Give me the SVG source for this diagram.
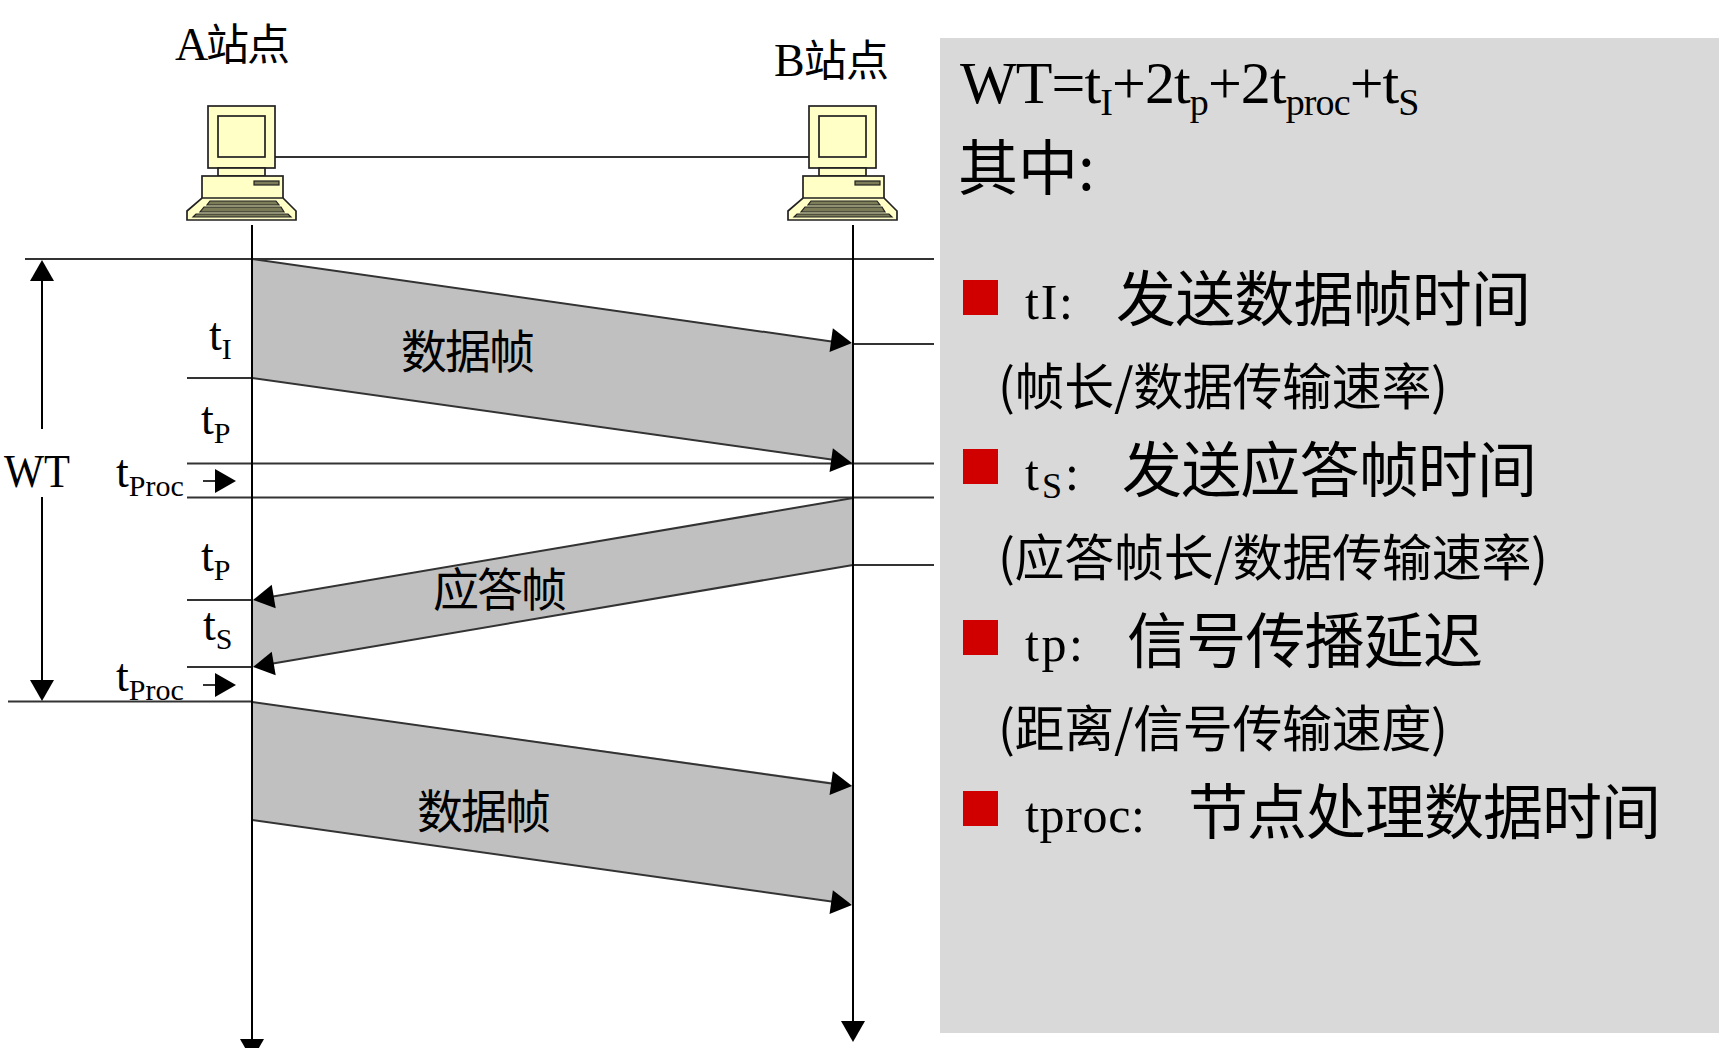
<svg xmlns="http://www.w3.org/2000/svg" width="1724" height="1048" viewBox="0 0 1724 1048">
<defs>
<style>
text{font-family:"Liberation Serif","Noto Sans CJK SC",serif;fill:#000}
.zh{font-family:"Noto Sans CJK SC","Liberation Serif",serif}
.l{stroke:#333;stroke-width:2;fill:none}
.v{stroke:#000;stroke-width:2;fill:none}
.band{fill:#c0c0c0}
.pc{fill:#ffffc6;stroke:#222;stroke-width:1.7}
.key{fill:#7c7c58;stroke:#222;stroke-width:1.2}
.lab{font-size:46px}
.sub{font-size:30px}
.big{font-size:60px}
.mid{font-size:50px}
</style>
<polygon id="ah" points="0,0 -21,-12 -21,12" fill="#000"/>
<g id="pc">
<rect class="pc" x="0" y="0" width="67" height="62"/>
<rect class="pc" x="10" y="10" width="47" height="41"/>
<rect class="pc" x="10" y="62" width="47" height="8"/>
<rect class="pc" x="-6" y="70" width="81" height="27"/>
<rect class="key" x="46" y="75" width="25" height="4"/>
<path class="pc" d="M-6,92 L75,92 L88,105 L88,114 L-21,114 L-21,105Z"/>
<path class="key" d="M2,95 L68,95 L71,99 L-1,99Z M-4,101 L73,101 L76,106 L-8,106Z M-12,108 L80,108 L83,111 L-15,111Z"/>
</g>
</defs>
<rect width="1724" height="1048" fill="#fff"/>
<g id="panel"><rect x="940" y="38" width="779" height="995" fill="#d9d9d9"/></g>
<g id="bands">
<polygon class="band" points="252,259 853,344 853,463 252,378"/>
<polygon class="band" points="853,498 853,565 253,667 253,600"/>
<polygon class="band" points="252,702 853,785 853,904 252,820"/>
</g>
<g id="connectors">
<line class="l" x1="25" y1="259" x2="934" y2="259"/>
<line class="l" x1="187" y1="378" x2="252" y2="378"/>
<line class="l" x1="853" y1="344" x2="934" y2="344"/>
<line class="l" x1="187" y1="463.500" x2="934" y2="463.500"/>
<line class="l" x1="187" y1="497.500" x2="934" y2="497.500"/>
<line class="l" x1="853" y1="565" x2="934" y2="565"/>
<line class="l" x1="187" y1="600" x2="252" y2="600"/>
<line class="l" x1="187" y1="667" x2="252" y2="667"/>
<line class="l" x1="8" y1="701.500" x2="252" y2="701.500"/>
<line class="l" x1="252" y1="259" x2="835" y2="342"/>
<line class="l" x1="252" y1="378" x2="835" y2="460"/>
<line class="l" x1="853" y1="498" x2="270" y2="597"/>
<line class="l" x1="853" y1="565" x2="270" y2="664"/>
<line class="l" x1="252" y1="702" x2="835" y2="784"/>
<line class="l" x1="252" y1="820" x2="835" y2="902"/>
<line class="l" x1="275" y1="157" x2="810" y2="157"/>
<line class="v" x1="252" y1="225" x2="252" y2="1040"/>
<line class="v" x1="853" y1="225" x2="853" y2="1025"/>
<line class="v" x1="42" y1="275" x2="42" y2="429"/>
<line class="v" x1="42" y1="497" x2="42" y2="685"/>
<line class="l" x1="203" y1="481" x2="215" y2="481"/>
<line class="l" x1="203" y1="685" x2="215" y2="685"/>
<use href="#ah" transform="translate(852,343) rotate(8)"/>
<use href="#ah" transform="translate(852,463) rotate(8)"/>
<use href="#ah" transform="translate(253,600) rotate(170.500)"/>
<use href="#ah" transform="translate(253,667) rotate(170.500)"/>
<use href="#ah" transform="translate(852,786) rotate(8)"/>
<use href="#ah" transform="translate(852,905) rotate(8)"/>
<use href="#ah" transform="translate(236,481)"/>
<use href="#ah" transform="translate(236,685)"/>
<use href="#ah" transform="translate(42,260) rotate(-90)"/>
<use href="#ah" transform="translate(42,701) rotate(90)"/>
<use href="#ah" transform="translate(252,1060) rotate(90)"/>
<use href="#ah" transform="translate(853,1042) rotate(90)"/>
</g>
<g id="station-a"><use href="#pc" x="208" y="106"/><text x="175" y="60" font-size="46" textLength="115">A<tspan class="zh" font-size="43">站点</tspan></text></g>
<g id="station-b"><use href="#pc" x="809" y="106"/><text x="774" y="76" font-size="46" textLength="115">B<tspan class="zh" font-size="43">站点</tspan></text></g>
<g id="labels">
<text class="lab" x="4" y="487" textLength="66" lengthAdjust="spacingAndGlyphs">WT</text>
<text class="lab" x="209" y="350">t<tspan class="sub" dy="9">I</tspan></text>
<text class="lab" x="201" y="434">t<tspan class="sub" dy="9">P</tspan></text>
<text class="lab" x="116" y="487">t<tspan class="sub" dy="9">Proc</tspan></text>
<text class="lab" x="201" y="571">t<tspan class="sub" dy="9">P</tspan></text>
<text class="lab" x="203" y="640">t<tspan class="sub" dy="9">S</tspan></text>
<text class="lab" x="116" y="691">t<tspan class="sub" dy="9">Proc</tspan></text>
<text class="zh lab" x="401" y="368" textLength="134">数据帧</text>
<text class="zh lab" x="433" y="606" textLength="134">应答帧</text>
<text class="zh lab" x="417" y="828" textLength="134">数据帧</text>
</g>
<g id="formula">
<text x="960" y="103" font-size="60" letter-spacing="-0.9">WT=t<tspan font-size="38" dy="12">I</tspan><tspan dy="-12">+2t</tspan><tspan font-size="38" dy="12">p</tspan><tspan dy="-12">+2t</tspan><tspan font-size="38" dy="12">proc</tspan><tspan dy="-12">+t</tspan><tspan font-size="38" dy="12">S</tspan></text>
<text class="zh big" x="958" y="190">其中:</text>
</g>
<g id="list">
<rect x="963" y="280" width="35" height="35" fill="#d00000"/>
<rect x="963" y="449" width="35" height="35" fill="#d00000"/>
<rect x="963" y="620" width="35" height="35" fill="#d00000"/>
<rect x="963" y="791" width="35" height="35" fill="#d00000"/>
<text x="1025" y="319" font-size="50" textLength="48">tI:</text><text class="zh big" x="1116" y="321" textLength="415">发送数据帧时间</text>
<text class="zh mid" x="998" y="405" textLength="450">(帧长/数据传输速率)</text>
<text x="1025" y="490" font-size="50" textLength="54">t<tspan font-size="36" dy="8">S</tspan><tspan dy="-8">:</tspan></text><text class="zh big" x="1122" y="492" textLength="415">发送应答帧时间</text>
<text class="zh mid" x="998" y="576" textLength="550">(应答帧长/数据传输速率)</text>
<text x="1025" y="661" font-size="50" textLength="58">tp:</text><text class="zh big" x="1127" y="663" textLength="356">信号传播延迟</text>
<text class="zh mid" x="998" y="747" textLength="450">(距离/信号传输速度)</text>
<text x="1025" y="832" font-size="50" textLength="120">tproc:</text><text class="zh big" x="1188" y="834" textLength="473">节点处理数据时间</text>
</g>
</svg>
